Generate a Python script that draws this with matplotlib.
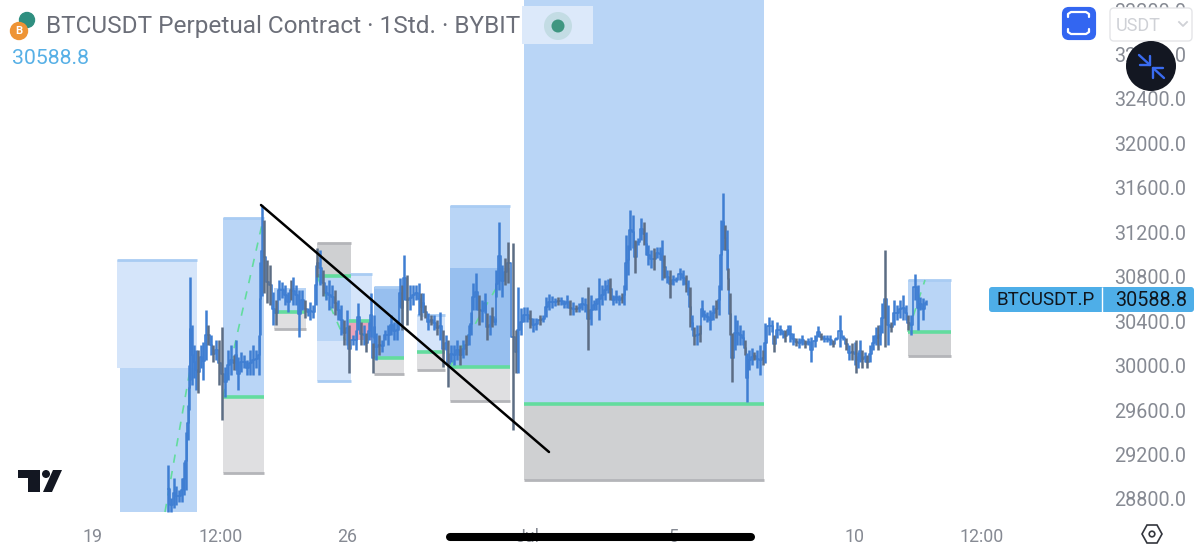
"""BTCUSDT perpetual chart screenshot, rebuilt with matplotlib."""
import matplotlib
matplotlib.use("Agg")
import matplotlib.pyplot as plt
from matplotlib.patches import Circle, FancyBboxPatch, Polygon, Rectangle

plt.rcParams["font.family"] = ["Roboto", "DejaVu Sans"]

# bars: x slot on the time scale, high, low
bar_slots = [168, 171, 174, 176, 179, 182, 184, 186, 188, 189, 190, 192, 194, 196, 198, 201, 203, 206, 208, 211,
             213, 216, 219, 222, 225, 228, 231, 234, 236, 238, 241, 244, 247, 250, 253, 256, 259, 260, 262, 264,
             267, 270, 273, 276, 279, 282, 285, 288, 291, 293, 296, 299, 302, 305, 308, 310, 313, 316, 317, 320,
             323, 326, 329, 332, 335, 338, 341, 344, 347, 349, 353, 356, 358, 361, 364, 366, 369, 371, 373, 374,
             376, 379, 382, 385, 388, 391, 394, 397, 400, 402, 404, 407, 410, 413, 416, 419, 421, 423, 425, 428,
             431, 434, 437, 440, 443, 446, 448, 451, 454, 457, 460, 463, 466, 469, 471, 473, 476, 479, 482, 485,
             487, 490, 492, 495, 496, 499, 502, 505, 508, 513, 516, 518, 521, 524, 527, 530, 533, 536, 540, 543,
             546, 549, 552, 555, 558, 561, 564, 567, 570, 573, 576, 579, 582, 585, 588, 591, 594, 596, 599, 602,
             605, 608, 610, 613, 616, 619, 622, 624, 626, 628, 630, 633, 635, 638, 641, 644, 646, 648, 651, 654,
             657, 660, 662, 664, 667, 670, 673, 676, 680, 683, 686, 688, 690, 692, 694, 697, 700, 702, 704, 707,
             710, 713, 716, 719, 721, 723, 725, 727, 728, 730, 732, 735, 737, 740, 743, 745, 747, 749, 752, 754,
             757, 760, 763, 765, 769, 772, 774, 777, 780, 783, 785, 788, 790, 793, 796, 799, 802, 805, 808, 811,
             815, 818, 821, 824, 827, 830, 833, 836, 840, 843, 846, 849, 852, 855, 856, 858, 860, 862, 865, 867,
             870, 873, 876, 878, 880, 882, 885, 888, 891, 894, 897, 900, 903, 906, 908, 911, 915, 918, 920, 923,
             926]
bar_highs = [29106, 28809, 28989, 28917, 28881, 28989, 29133, 29403, 29646, 30006, 30798, 30366, 30186, 30141, 30141, 30186, 30213, 30501, 30366, 30276,
             30186, 30231, 30231, 30348, 29988, 30141, 30186, 30096, 30231, 30078, 30123, 30096, 30051, 30141, 30186, 30141, 30276, 30933, 31446, 31311,
             30951, 30906, 30663, 30591, 30771, 30753, 30726, 30663, 30771, 30798, 30726, 30681, 30681, 30591, 30519, 30573, 30546, 30906, 31059, 31041,
             30861, 30726, 30771, 30726, 30681, 30591, 30546, 30411, 30501, 30366, 30276, 30321, 30564, 30393, 30366, 30294, 30393, 30654, 30204, 30456,
             30294, 30276, 30231, 30321, 30366, 30456, 30393, 30411, 30789, 30726, 30996, 30816, 30726, 30726, 30726, 30744, 30654, 30654, 30546, 30474,
             30456, 30456, 30411, 30483, 30321, 30276, 30231, 30186, 30186, 30231, 30186, 30231, 30276, 30366, 30483, 30744, 30834, 30636, 30591, 30654,
             30474, 30456, 30528, 30429, 30861, 31293, 30906, 30969, 31113, 31104, 30321, 30708, 30519, 30528, 30528, 30501, 30429, 30429, 30456, 30456,
             30618, 30645, 30627, 30609, 30618, 30618, 30591, 30636, 30591, 30573, 30546, 30564, 30618, 30609, 30708, 30636, 30591, 30609, 30789, 30726,
             30771, 30780, 30789, 30636, 30681, 30636, 30654, 30726, 31176, 31086, 31401, 31356, 31131, 31149, 31329, 31293, 31203, 31086, 31041, 31059,
             31068, 31068, 31131, 30996, 30861, 30861, 30816, 30798, 30879, 30861, 30816, 30771, 30708, 30456, 30348, 30366, 30366, 30591, 30501, 30483,
             30501, 30546, 30591, 30726, 31311, 31554, 31266, 31221, 30879, 30654, 30294, 30456, 30411, 30366, 30321, 30231, 30114, 30141, 30159, 30123,
             30141, 30186, 30141, 30384, 30438, 30411, 30276, 30393, 30366, 30321, 30321, 30366, 30366, 30294, 30249, 30249, 30276, 30231, 30249, 30258,
             30276, 30357, 30294, 30276, 30276, 30276, 30231, 30258, 30456, 30276, 30249, 30186, 30204, 30213, 30231, 30123, 30231, 30141, 30123, 30096,
             30186, 30276, 30348, 30366, 30366, 30564, 31041, 30546, 30393, 30591, 30546, 30591, 30636, 30546, 30456, 30456, 30825, 30726, 30618, 30609,
             30591]
bar_lows = [28683, 28683, 28719, 28746, 28773, 28773, 28836, 28881, 29331, 29601, 29871, 29826, 29889, 29781, 29754, 29979, 29871, 30051, 30186, 30096,
            30033, 30051, 29826, 29511, 29718, 29871, 29916, 29961, 29961, 29781, 29943, 29979, 29916, 29916, 29916, 29979, 29916, 30276, 30627, 30654,
            30564, 30546, 30366, 30366, 30591, 30609, 30546, 30483, 30591, 30546, 30546, 30258, 30501, 30429, 30447, 30411, 30429, 30546, 30798, 30726,
            30627, 30591, 30501, 30519, 30456, 30411, 30276, 30186, 30186, 29934, 30186, 30141, 30321, 30186, 30186, 30123, 30231, 30258, 29934, 30249,
            30051, 30096, 30123, 30231, 30186, 30276, 30231, 30231, 30528, 30321, 30591, 30366, 30501, 30546, 30591, 30456, 30411, 30474, 30429, 30321,
            30366, 30321, 30276, 30231, 29988, 30141, 29808, 30033, 30006, 30051, 30006, 30069, 30096, 30186, 30276, 30501, 30501, 30366, 30393, 30474,
            30231, 30276, 30348, 30366, 30618, 30681, 30618, 30726, 30744, 29421, 29934, 29934, 30276, 30393, 30393, 30339, 30303, 30321, 30366, 30393,
            30438, 30501, 30519, 30537, 30546, 30546, 30519, 30519, 30456, 30456, 30483, 30483, 30501, 30483, 30141, 30366, 30501, 30501, 30411, 30546,
            30591, 30654, 30591, 30546, 30564, 30546, 30564, 30546, 30681, 30816, 31041, 31059, 30834, 31086, 31131, 31086, 30996, 30906, 30879, 30861,
            30969, 30951, 30771, 30789, 30744, 30609, 30726, 30753, 30771, 30726, 30663, 30636, 30348, 30321, 30186, 30186, 30213, 30438, 30411, 30393,
            30321, 30411, 30429, 30456, 30681, 31041, 31041, 30861, 30681, 30276, 29853, 30141, 30186, 30186, 30186, 30096, 29673, 29961, 30006, 30051,
            29979, 29916, 30006, 30024, 30276, 30303, 30123, 30249, 30276, 30249, 30213, 30276, 30213, 30186, 30177, 30159, 30186, 30159, 30186, 30033,
            30168, 30258, 30231, 30213, 30213, 30186, 30168, 30231, 30168, 30231, 30141, 30051, 30051, 30006, 29934, 29979, 30033, 29979, 30033, 29979,
            30033, 30141, 30186, 30141, 30186, 30294, 30168, 30186, 30303, 30366, 30411, 30429, 30411, 30411, 30321, 30276, 30591, 30321, 30501, 30411,
            30546]
grey_slots = [198, 208, 213, 219, 222, 234, 264, 267, 270, 276, 291, 305, 317, 323, 335, 344, 349, 361, 366, 373, 379,
              402, 407, 421, 425, 431, 437, 443, 448, 460, 466, 479, 487, 492, 505, 508, 513, 516, 530, 540, 558, 570,
              576, 588, 610, 622, 635, 644, 654, 664, 670, 686, 690, 694, 700, 716, 725, 728, 730, 732, 745, 754, 763,
              774, 785, 796, 805, 821, 833, 846, 852, 856, 862, 867, 878, 885, 891, 908]

# position boxes: x from, x to, upper price, lower price
light_boxes = [(117, 197, 30951, 29979), (317, 351, 30222, 29862), (349, 372, 30825, 30402), (417, 445, 30456, 30123)]
blue_boxes = [(120, 197, 29979, 28683), (223, 264, 31329, 29718), (274, 306, 30699, 30483), (317, 351, 30807, 30222),
              (450, 510, 31437, 30879), (524, 764, 33291, 29655), (908, 951, 30771, 30303)]
deep_boxes = [(374, 404, 30708, 30069), (450, 510, 30879, 29988)]
grey_boxes = [(223, 264, 29718, 29034), (274, 306, 30483, 30330), (317, 351, 31104, 30807), (374, 404, 30069, 29925),
              (417, 445, 30123, 29961), (450, 510, 29988, 29682), (524, 764, 29655, 28971), (908, 951, 30303, 30087)]
pink_boxes = [(349, 372, 30402, 30231)]
# stop/entry lines: x from, x to, price
green_lines = [(223, 264, 29718), (274, 306, 30483), (317, 351, 30807), (349, 372, 30402), (374, 404, 30069),
               (417, 445, 30123), (450, 510, 29988), (524, 764, 29655), (908, 951, 30303)]
dash_lines = [(165, 28683, 190, 29961), (223, 29718, 263, 31311), (317, 30807, 345, 30231), (450, 29988, 508, 30879),
              (908, 30303, 925, 30771)]
trend_slots = [261, 549]
trend_prices = [31446, 29223]

price_ticks = [28800, 29200, 29600, 30000, 30400, 30800, 31200, 31600, 32000, 32400, 32800, 33200]
time_slots = [93, 221, 347, 528, 674, 855, 982]
time_labels = ["19", "12:00", "26", "Jul", "5", "10", "12:00"]
last_price = 30588.8

LIGHT = "#d5e5fa"
BLUE = "#b9d5f6"
DEEP = "#97bfef"
GREY = "#dfdfe1"
GREEN = "#63dc9e"

fig = plt.figure(figsize=(12, 5.54), dpi=100, facecolor="white")
ax = fig.add_axes([0, 0, 1, 1])
ax.set_xlim(0, 1200)
ax.set_ylim(28305, 33291)
ax.set_axisbelow(True)
for side in ax.spines.values():
    side.set_visible(False)

ax.yaxis.tick_right()
ax.set_yticks(price_ticks, [f"{p:.1f}" for p in price_ticks])
ax.tick_params(axis="y", length=0, pad=-62, labelsize=14.2, labelcolor="#868a93")
ax.set_xticks(time_slots, time_labels)
ax.tick_params(axis="x", length=0, pad=-19, labelsize=12.8, labelcolor="#868a93")


def fill_boxes(boxes, color, z=1):
    for left, right, top, bottom in boxes:
        ax.add_patch(Rectangle((left, bottom), right - left, top - bottom, color=color, lw=0, zorder=z))


fill_boxes(light_boxes, LIGHT)
fill_boxes(blue_boxes, BLUE)
fill_boxes(deep_boxes, DEEP)
fill_boxes(grey_boxes, GREY)
fill_boxes([grey_boxes[2], grey_boxes[6], grey_boxes[7]], "#cfd0d2", z=1.1)
fill_boxes(pink_boxes, "#eba3ba", z=1.2)

# thin darker caps on the outer edges of the boxes
for left, right, price in [(117, 197, 30951), (223, 264, 31329), (317, 351, 29862), (349, 372, 30825), (374, 404, 30708),
                           (417, 445, 30456), (450, 510, 31437), (908, 951, 30771)]:
    ax.hlines(price, left, right, color="#a9ccf3", lw=2, zorder=1.3)
for left, right, price in [(223, 264, 29034), (274, 306, 30330), (317, 351, 31104), (374, 404, 29925), (417, 445, 29961),
                           (450, 510, 29682), (524, 764, 28971), (908, 951, 30087)]:
    ax.hlines(price, left, right, color="#b4b5b9", lw=2, zorder=1.3)

for left, right, price in green_lines:
    ax.hlines(price, left, right, color=GREEN, lw=2.6, zorder=2)
for x0, p0, x1, p1 in dash_lines:
    ax.plot([x0, x1], [p0, p1], color=GREEN, lw=1.2, ls=(0, (5, 5)), zorder=2)

# step through the bars so neighbouring candles connect
ax.step(bar_slots, [(h + l) / 2 for h, l in zip(bar_highs, bar_lows)], color="#3f7ed2", lw=1.2, where="mid", zorder=2.9)
for slot, high, low in zip(bar_slots, bar_highs, bar_lows):
    color = "#5c6d84" if slot in grey_slots else "#3f7ed2"
    ax.vlines(slot, low, high, color=color, lw=1.8, zorder=3)

ax.plot(trend_slots, trend_prices, color="black", lw=1.8, zorder=4, solid_capstyle="round")

# screen chrome is placed in pixels on a second, transparent layer
ui = fig.add_axes([0, 0, 1, 1], facecolor="none")
ui.set_xlim(0, 1200)
ui.set_ylim(554, 0)
ui.axis("off")

ui.add_patch(Circle((27, 20), 7.5, color="#2f8f80"))
ui.add_patch(Circle((19, 31), 8.5, color="#ee9435"))
ui.text(19, 31.5, "B", color="white", fontsize=8, ha="center", va="center", weight="bold")
ui.text(46, 26, "BTCUSDT Perpetual Contract · 1Std. · BYBIT", color="#6c6f79", fontsize=17.55, va="center", ha="left")
ui.text(12, 59, f"{last_price:.1f}", color="#57b0e6", fontsize=15.3, va="center", ha="left")

ui.add_patch(Rectangle((522, 6), 71, 38, color="#dce9fa", lw=0))
ui.add_patch(Circle((558, 26), 14, color="#c3dce4", lw=0))
ui.add_patch(Circle((558, 26), 6.5, color="#3f9680", lw=0))

ui.add_patch(FancyBboxPatch((1064, 9), 30, 29, boxstyle="round,pad=0,rounding_size=5", fc="#3366f1", ec="#3366f1", lw=3))
for xs, ys in [([1068, 1068, 1071, 1086, 1089, 1089], [17, 14, 12, 12, 14, 17]),
               ([1068, 1068, 1071, 1086, 1089, 1089], [29, 32, 34, 34, 32, 29])]:
    ui.plot(xs, ys, color="white", lw=1.6, solid_capstyle="round")

ui.add_patch(FancyBboxPatch((1110, 8), 82, 33, boxstyle="round,pad=0,rounding_size=4", fc="white", ec="#e4e5e8", lw=1))
ui.text(1116, 26, "USDT", color="#cfd1d6", fontsize=13, va="center", ha="left")
ui.plot([1179, 1183, 1187], [22, 26, 22], color="#cfd1d6", lw=1.3)

ui.add_patch(Circle((1151, 66), 25, color="#131722", lw=0))
for xs, ys in [([1139, 1150], [55, 65]), ([1150, 1140], [65, 65]), ([1150, 1150], [65, 56]),
               ([1164, 1153], [78, 68]), ([1153, 1163], [68, 68]), ([1153, 1153], [68, 78])]:
    ui.plot(xs, ys, color="#3a6bf0", lw=1.7, solid_capstyle="round")

ui.add_patch(FancyBboxPatch((989, 287), 205, 25, boxstyle="round,pad=0,rounding_size=3", fc="#4eaee8", ec="none"))
ui.vlines(1102, 287, 312, color="white", lw=1)
ui.text(997, 300, "BTCUSDT.P", color="#10151c", fontsize=13.5, va="center", ha="left")
ui.text(1115, 300, f"{last_price:.1f}", color="#10151c", fontsize=14.2, va="center", ha="left")

# TradingView mark
ui.add_patch(Polygon([(18, 470), (40, 470), (40, 492), (28, 492), (28, 478), (18, 478)], color="#131722", lw=0))
ui.add_patch(Circle((46, 474), 4, color="#131722", lw=0))
ui.add_patch(Polygon([(53, 470), (62, 470), (52, 492), (43, 492)], color="#131722", lw=0))

ui.plot([450, 751], [537, 537], color="black", lw=5.8, solid_capstyle="round")

ui.add_patch(Polygon([(1147, 525), (1157, 525), (1162, 534), (1157, 543), (1147, 543), (1142, 534)], fc="none", ec="#33363d", lw=1.2))
ui.add_patch(Circle((1152, 534), 2.8, fc="none", ec="#33363d", lw=1.2))

fig.savefig("out.png", dpi=100)
plt.close(fig)
